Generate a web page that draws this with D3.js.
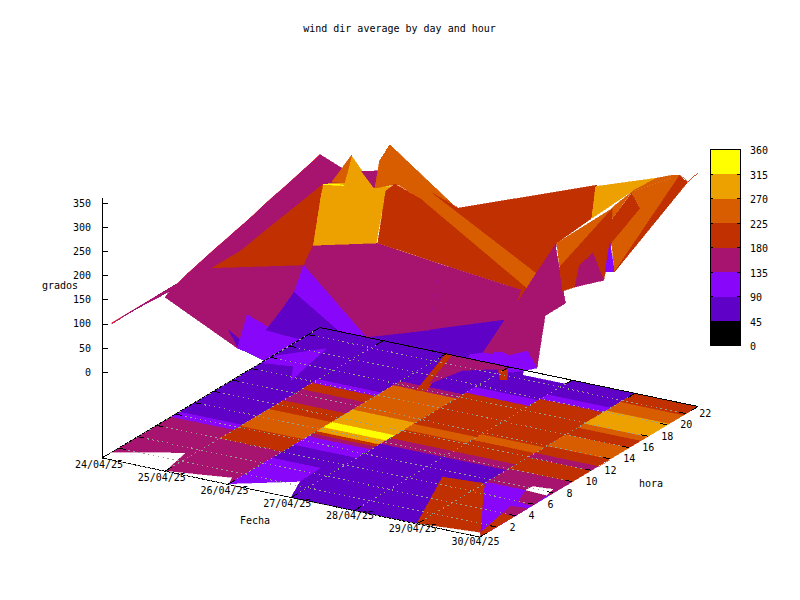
<!DOCTYPE html>
<html><head><meta charset="utf-8">
<style>html,body{margin:0;padding:0;background:#fff}svg{display:block}
text{font-family:"DejaVu Sans Mono",monospace;font-size:10px;fill:#000}</style>
<script src="https://d3js.org/d3.v7.min.js"></script></head><body>
<svg id="c" width="800" height="600"></svg>
<script>
const title = "wind dir average by day and hour";
const days = ["24/04/25","25/04/25","26/04/25","27/04/25","28/04/25","29/04/25","30/04/25"];
const hourTicks = [2,4,6,8,10,12,14,16,18,20,22];
const zTicks = [0,50,100,150,200,250,300,350];
const cbTicks = [0,45,90,135,180,225,270,315,360];
const palette = ["#000000","#6001c8","#8806f9","#a7146f","#c13000","#d75d00","#eca100","#ffff00"];

// surface heights: one list per day, hour 0..23
const z24 = [null,89,89,89,89,89,89,89,89,97,103,109,115,120,126,131,137,144,150,155,161,167,173,180];
const z25 = [182,196,190,185,184,184,182,180,184,175,185,180,178,175,172,170,165,160,155,150,145,140,133,126];
const z26 = [142,92,149,118,94,107,122,138,182,211,325,315,304,350];
const z27 = [60,60,100,100,87,70,45,51,60,243,345,335,240,190];
const z28 = [30,30,30,30,30,30,30,50,102,227];
const z29 = [30,30,30,30,60,75,135,95,80,100];
const z30 = [60,60,60,60,60,148,101,214,324,200];
const surface = [z24,z25,z26,z27,z28,z29,z30];
const surfaceGaps = ["1:10","1:11","1:12"];

// extra surface facets: value, then [day index, hour, height]
const facets = [
 [160,[[1,0,182],[2,1,92],[2,0,142]]],
 [200,[[1,5,184],[1,8,184],[2,8,182]]],
 [200,[[1,8,184],[1,10,193],[2,10,325],[2,8,182]]],
 [250,[[2,10.95,319],[2,13.05,350],[2,12.3,301]]],
 [160,[[2,14.1,304],[2,15.8,285],[2,15.5,253],[2,15.3,258]]],
 [250,[[2,15.5,253],[2,16,305],[2,17.05,325],[2,24.2,108],[2,22.8,141],[2,21.6,171],[2,20.5,168],[2,18.1,228],[2,17.6,236]]],
 [200,[[3,10,339],[3,10.95,342],[3,13.9,274],[5,11.6,174],[5,10.5,155],[5,10.95,177],[3,9.16,241]]],
 [250,[[3,13.9,274],[3,14.95,276],[5,12.6,193],[5,11.6,174]]],
 [200,[[3,14.95,276],[3,16.2,247],[3,17.6,214],[5,18.95,300],[5,18.4,238],[5,14.7,230],[5,12.6,193]]],
 [160,[[4,9,227],[5,10.95,177],[5,10.5,155],[5,9.26,135],[4,8,102]]],
 [70,[[4,8,102],[5,9.26,135],[5,7,95],[4,7,50]]],
 [160,[[5,9.26,135],[5,10.5,155],[5,11.6,174],[5,12.6,193],[5,14.7,230],[6,8,324],[6,9,200],[6,6.5,199],[6,6,101],[6,5,148],[5,7,95]]],
 [110,[[6,5,148],[6,6,101],[5,5,60],[5,4.5,92]]],
 [290,[[6,12.2,404],[6,18.6,346],[6,16,349],[6,11.8,343]]],
 [250,[[6,18.6,346],[6,20.2,333],[6,21.05,323],[6,16,349]]],
 [250,[[6,8.1,335],[6,14,338],[6,14,318],[6,8.4,282]]],
 [200,[[6,8.4,282],[6,14,338],[6,13.9,315],[6,16,346],[6,16.9,303],[6,13.9,267],[6,13.05,200],[6,11.9,270],[6,10.5,262],[6,10,222],[6,8.7,229]]],
 [160,[[6,10,222],[6,10.5,262],[6,11.9,270],[6,13.05,200]]],
 [110,[[6,13.7,270],[6,13.2,216],[6,14.2,204]]],
 [250,[[6,14,340],[6,16,348],[6,14,318]]],
 [250,[[6,13.9,267],[6,16.9,303],[6,16,348],[6,21.05,323],[6,14.2,204]]],
 [200,[[6,21.05,323],[6,21.9,299],[6,22.95,305],[6,21.9,299],[6,14.2,204]]]
];

// base map: bands per day pair, [from hour, value]; null = no data
const floor0 = [[0,160],[7.3,110],[8.2,70],[23]];
const floor1 = [[0,160],[5.8,200],[8,250],[11,200],[12.5,160],[14.5,200],[15.6,110],[16.2,70],[23]];
const floor2 = [[0,110],[4.7,70],[7,110],[8.5,160],[9,200],[9.4,290],[10.1,340],[11,290],[13.2,250],[17.5,160],[18.2,70],[23]];
const floor3 = [[0,70],[9.5,160],[10.5,200],[12,250],[13,200],[18.5,110],[19.5,70],[22.3]];
const floor4 = [[0,70],[9.5,160],[10.5,200],[12.5,250],[13.5,200],[19.7,110],[20.5,70],[23]];
const floor5 = [[0,110],[7.4,160],[9.75,200],[11.75,160],[12.5,200],[13.75,250],[15.75,200],[17,250],[17.7,290],[20,250],[21.5,200],[23]];
const floorBands = [floor0,floor1,floor2,floor3,floor4,floor5];
// irregular base patches: value, [day index, hour]
const floorPatches = [
 [null,[[0,0],[0,.95],[.88,2.9],[1,0]]],
 [null,[[1,0],[1.92,.93],[2,0]]],
 [null,[[2,0],[2.8,2.28],[3,0]]],
 [70,[[3,0],[2.8,2.28],[2.77,5.47],[3,5.5]]],
 [200,[[5,0],[4.38,6.8],[5,7.1],[5.92,.55]]],
 [null,[[5,0],[5.92,.55],[6,0]]],
 [200,[[6,.1],[5.92,.55],[5.8,3.74],[6,3.6]]],
 [160,[[5.8,3.74],[6,3.6],[6,5],[5.75,4.9]]],
 [160,[[5.75,5.66],[5.62,7.4],[5.96,7.3],[6,5.5]]],
 [null,[[5.62,7.4],[5.63,8],[5.92,8.2],[5.96,7.3]]],
 [110,[[.01,17.96],[.49,20.4],[.7,15.3],[.45,17.2],[.02,16.8]]],
 [200,[[2,23],[2.1,23],[2.49,17.7],[2.37,17.4]]],
 [160,[[2.1,23],[2.39,18.6],[2.52,21.3],[3,22.7],[3,23]]],
 [200,[[2.93,22.35],[3.04,22.6],[3.23,21.3],[3.15,21.1]]]
];

const svg = d3.select("#c");
const color = d3.scaleQuantize().domain([0,360]).range(palette);
const zY = d3.scaleLinear().domain([-178,362]).range([458,197]);
const floorZ = -178;
const dayX = d3.scaleLinear().domain([0,6]).range([102,480]);
const dayY = d3.scaleLinear().domain([0,6]).range([0,79]);
const hourX = d3.scaleLinear().domain([0,23]).range([0,218]);
const hourY = d3.scaleLinear().domain([0,23]).range([0,-130.5]);
const tickShift = 0.25;
const gridColor = "#9aa090", gridDash = "1.5 3.5";
const P = (d,h,z) => [dayX(d)+hourX(h), zY(z)+dayY(d)+hourY(h)];
const line = pts => pts.map(p=>p.map(v=>v.toFixed(1)).join(",")).join(" ");
const fill = v => v===null ? "#ffffff" : color(v);
const poly = (g,pts,v) => g.append("polygon").attr("points",line(pts))
  .attr("fill",fill(v)).attr("stroke",fill(v)).attr("stroke-width",.6).attr("shape-rendering","crispEdges");

// title
svg.append("text").attr("x",399.5).attr("y",32).attr("text-anchor","middle").text(title);

// surface
const gS = svg.append("g");
gS.append("path").attr("fill","none").attr("stroke","#ff0000")
  .attr("d",d3.line()(z24.map((z,h)=>z===null?null:P(0,h,z)).filter(Boolean)));
surface.slice(0,-1).forEach((col,c)=>{
  const next = surface[c+1];
  for(let h=0;h<23;h++){
    const q=[col[h],col[h+1],next[h+1],next[h]];
    if(q.some(v=>v===null||v===undefined)||surfaceGaps.includes(c+":"+h)) continue;
    poly(gS,[P(c,h,q[0]),P(c,h+1,q[1]),P(c+1,h+1,q[2]),P(c+1,h,q[3])],d3.mean(q));
  }
});
facets.forEach(([v,pts])=>poly(gS,pts.map(p=>P(p[0],p[1],p[2])),v));

// base map
const gF = svg.append("g");
floorBands.forEach((bands,c)=>{
  bands.slice(0,-1).forEach((b,i)=>{
    const h0=b[0],h1=bands[i+1][0];
    poly(gF,[P(c,h0,floorZ),P(c,h1,floorZ),P(c+1,h1,floorZ),P(c+1,h0,floorZ)],b[1]);
  });
});
floorPatches.forEach(([v,pts])=>poly(gF,pts.map(p=>P(p[0],p[1],floorZ)),v));

// grid and base frame
const gG = svg.append("g").attr("fill","none");
const seg=(a,b,col,dash,w)=>gG.append("line").attr("x1",a[0]).attr("y1",a[1]).attr("x2",b[0]).attr("y2",b[1])
   .attr("stroke",col).attr("stroke-width",w||1).attr("stroke-dasharray",dash||null).attr("shape-rendering","crispEdges");
seg(P(0,0,floorZ),P(6,0,floorZ),"#000");
seg(P(0,0,floorZ),P(0,23,floorZ),"#000");
seg(P(0,23,floorZ),P(6,23,floorZ),"#000");
days.forEach((d,i)=>{ if(i<6) seg(P(i,0,floorZ),P(i,23,floorZ),gridColor,gridDash); });
hourTicks.forEach(h=>seg(P(0,h-tickShift,floorZ),P(6,h-tickShift,floorZ),gridColor,gridDash));
seg(P(0,0,floorZ),P(6,0,floorZ),gridColor,gridDash);
hourTicks.forEach(h=>{
  seg(P(0,h-tickShift,floorZ),P(.11,h-tickShift,floorZ),"#000");
  seg(P(6,h-tickShift,floorZ),P(5.89,h-tickShift,floorZ),"#000");
});
days.forEach((d,i)=>{
  seg(P(i,0,floorZ),P(i,.7,floorZ),"#000");
  seg(P(i,23,floorZ),P(i,22.3,floorZ),"#000");
});

// z axis
const zAxis = d3.axisLeft(zY).tickValues(zTicks).tickSize(-6).tickSizeOuter(0).tickPadding(11).tickFormat(d3.format("d"));
const gZ = svg.append("g").attr("transform","translate(102,0)").call(zAxis);
gZ.selectAll("text").attr("dy","0.32em").style("font-family",'"DejaVu Sans Mono"').style("font-size","10px");
gZ.selectAll("path,line").attr("stroke","#000").attr("shape-rendering","crispEdges");

// tick labels
days.forEach((d,i)=>{const p=P(i,0,floorZ);
  svg.append("text").attr("x",p[0]-3-i*.25).attr("y",p[1]+10-i*.33).attr("text-anchor","middle").text(d);});
hourTicks.forEach(h=>{const p=P(6,h-tickShift,floorZ);
  svg.append("text").attr("x",p[0]+13).attr("y",p[1]+3.5).text(h);});
svg.append("text").attr("x",42).attr("y",289).text("grados");
svg.append("text").attr("x",240).attr("y",524).text("Fecha");
svg.append("text").attr("x",639).attr("y",487).text("hora");

// colour box
const cbY = d3.scaleLinear().domain([0,360]).range([345.5,149.5]);
const cbL=710,cbR=740;
const gC = svg.append("g");
d3.range(8).forEach(i=>{ gC.append("rect").attr("x",cbL).attr("width",cbR-cbL)
   .attr("y",cbY(45*(i+1))).attr("height",cbY(45*i)-cbY(45*(i+1))).attr("fill",palette[i]).attr("shape-rendering","crispEdges"); });
gC.append("rect").attr("x",cbL).attr("y",cbY(360)).attr("width",cbR-cbL).attr("height",cbY(0)-cbY(360))
  .attr("fill","none").attr("stroke","#000").attr("shape-rendering","crispEdges");
const cbAxis = d3.axisRight(cbY).tickValues(cbTicks).tickSize(0).tickPadding(10);
const gA = svg.append("g").attr("transform",`translate(${cbR},1)`).call(cbAxis);
gA.select("path").remove();
gA.selectAll("text").attr("dy","0.32em").style("font-family",'"DejaVu Sans Mono"').style("font-size","10px");
cbTicks.forEach(t=>{[[cbL,cbL+3],[cbR-3,cbR]].forEach(([a,b])=>gC.append("line").attr("x1",a).attr("x2",b)
   .attr("y1",cbY(t)).attr("y2",cbY(t)).attr("stroke","#000").attr("shape-rendering","crispEdges"));});
</script></body></html>
